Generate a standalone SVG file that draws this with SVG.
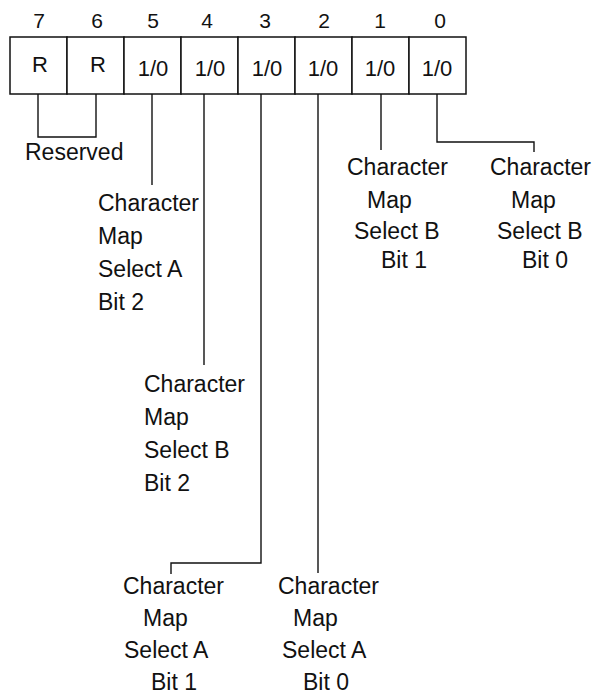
<svg xmlns="http://www.w3.org/2000/svg" width="594" height="694" viewBox="0 0 594 694">
<style>
text{font-family:"Liberation Sans",Arial,sans-serif;fill:#111}
.num{font-size:21px;text-anchor:middle}
.cell{font-size:22px;text-anchor:middle}
.lbl{font-size:23px}
.box{fill:#fff;stroke:#111;stroke-width:1.5}
.con{fill:none;stroke:#111;stroke-width:1.4}
</style>
<rect width="594" height="694" fill="#fff"/>
<g id="register">
<rect class="box" x="10" y="37" width="57" height="57"/>
<rect class="box" x="67" y="37" width="57" height="57"/>
<rect class="box" x="124" y="37" width="57" height="57"/>
<rect class="box" x="181" y="37" width="57" height="57"/>
<rect class="box" x="238" y="37" width="57" height="57"/>
<rect class="box" x="295" y="37" width="57" height="57"/>
<rect class="box" x="352" y="37" width="57" height="57"/>
<rect class="box" x="409" y="37" width="57" height="57"/>
<text class="num" x="39" y="28">7</text>
<text class="num" x="97" y="28">6</text>
<text class="num" x="153" y="28">5</text>
<text class="num" x="207" y="28">4</text>
<text class="num" x="265" y="28">3</text>
<text class="num" x="324" y="28">2</text>
<text class="num" x="380" y="28">1</text>
<text class="num" x="440" y="28">0</text>
<text class="cell" x="40" y="72">R</text>
<text class="cell" x="98" y="72">R</text>
<text class="cell" x="153" y="76">1/0</text>
<text class="cell" x="210" y="76">1/0</text>
<text class="cell" x="267" y="76">1/0</text>
<text class="cell" x="323" y="76">1/0</text>
<text class="cell" x="380" y="76">1/0</text>
<text class="cell" x="437" y="76">1/0</text>
</g>
<g id="connectors">
<path class="con" d="M38,94 V137 H96 V94"/>
<path class="con" d="M152,94 V185"/>
<path class="con" d="M204,94 V365"/>
<path class="con" d="M261,94 V563 H171 V574"/>
<path class="con" d="M318,94 V573"/>
<path class="con" d="M381,94 V150"/>
<path class="con" d="M437,94 V142 H534 V152"/>
</g>
<g id="reserved">
<text class="lbl" x="25" y="160">Reserved</text>
</g>
<g id="bit5">
<text class="lbl" x="98" y="211">Character</text>
<text class="lbl" x="98" y="244">Map</text>
<text class="lbl" x="98" y="277">Select A</text>
<text class="lbl" x="98" y="310">Bit 2</text>
</g>
<g id="bit4">
<text class="lbl" x="144" y="392">Character</text>
<text class="lbl" x="144" y="425">Map</text>
<text class="lbl" x="144" y="458">Select B</text>
<text class="lbl" x="144" y="491">Bit 2</text>
</g>
<g id="bit3">
<text class="lbl" x="123" y="594">Character</text>
<text class="lbl" x="143" y="626">Map</text>
<text class="lbl" x="124" y="658">Select A</text>
<text class="lbl" x="151" y="690">Bit 1</text>
</g>
<g id="bit2">
<text class="lbl" x="278" y="594">Character</text>
<text class="lbl" x="293" y="626">Map</text>
<text class="lbl" x="282" y="658">Select A</text>
<text class="lbl" x="303" y="690">Bit 0</text>
</g>
<g id="bit1">
<text class="lbl" x="347" y="175">Character</text>
<text class="lbl" x="367" y="208">Map</text>
<text class="lbl" x="354" y="239">Select B</text>
<text class="lbl" x="381" y="268">Bit 1</text>
</g>
<g id="bit0">
<text class="lbl" x="490" y="175">Character</text>
<text class="lbl" x="511" y="208">Map</text>
<text class="lbl" x="497" y="239">Select B</text>
<text class="lbl" x="522" y="268">Bit 0</text>
</g>
</svg>
